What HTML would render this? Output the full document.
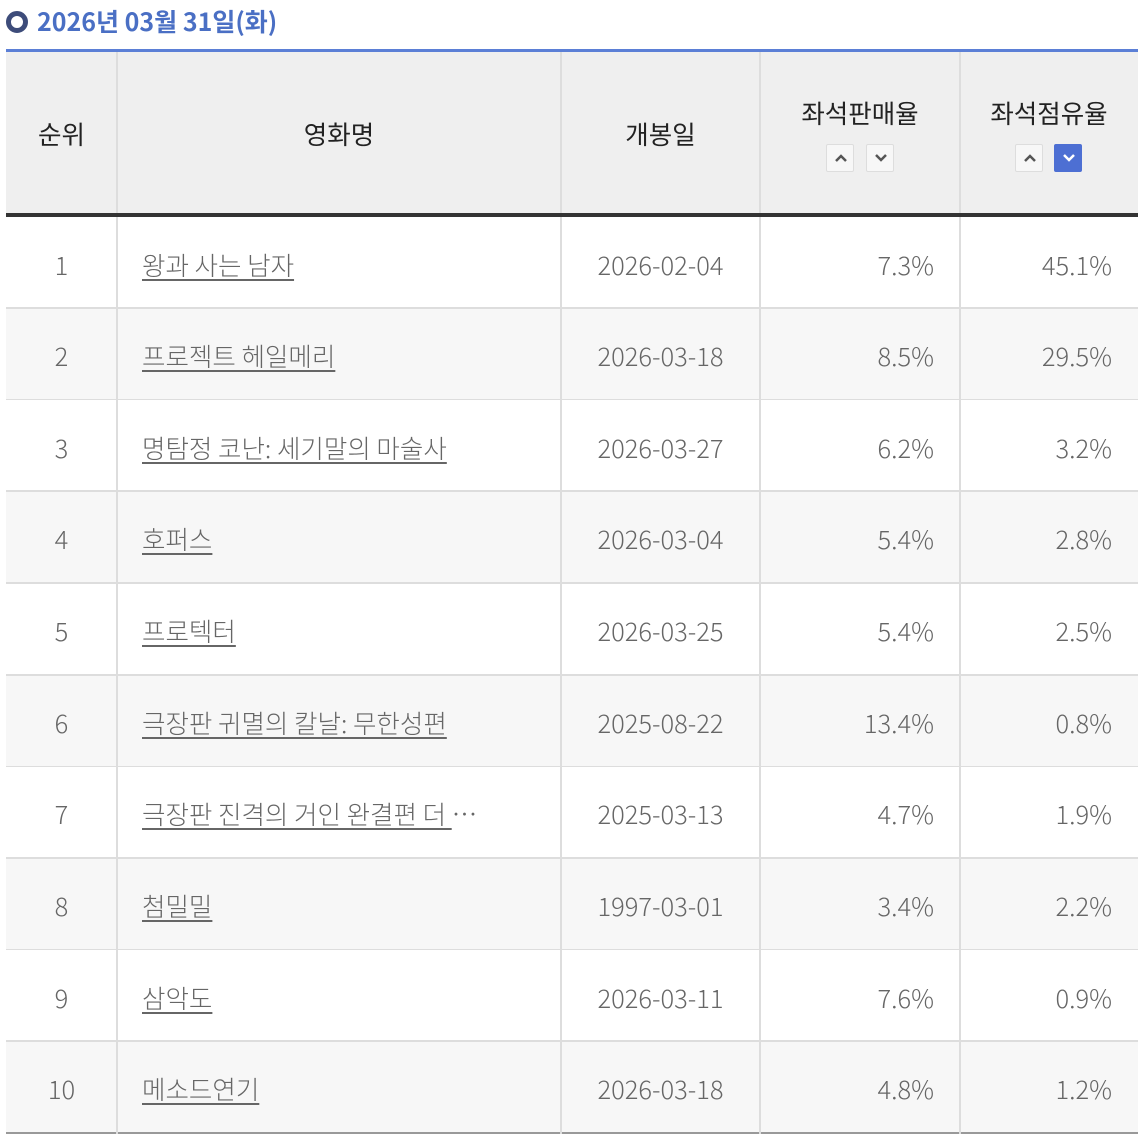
<!DOCTYPE html>
<html><head><meta charset="utf-8"><style>
*{margin:0;padding:0;box-sizing:border-box}
body{width:1138px;height:1134px;background:#fff;position:relative;overflow:hidden;font-family:"Noto Sans CJK KR",sans-serif}
.t{position:absolute;left:37px;top:4px;font-size:25px;font-weight:bold;color:#4a6fc4;letter-spacing:0;line-height:34px}
.circ{position:absolute;left:6px;top:11px;width:22px;height:22px;border-radius:50%;border:5px solid #3d4c7a;background:#fff}
.blue{position:absolute;left:6px;top:49px;width:1132px;height:3px;background:#5b7fd6}
.hd{position:absolute;left:6px;top:52px;width:1132px;height:161px;background:#efefef}
.dk{position:absolute;left:6px;top:213px;width:1132px;height:4px;background:#333}
.row{position:absolute;left:6px;width:1132px;height:92px;border-bottom:2px solid #ddd}
.vl{position:absolute;top:52px;width:2px;height:1082px;background:#ddd}
.c{position:absolute;font-size:25.5px;color:#666;font-weight:300;line-height:30px;margin-top:-2px}
.h{position:absolute;font-size:25.5px;color:#222;line-height:30px;text-align:center}
.btn{position:absolute;width:28px;height:28px;border:1px solid #ddd;background:#f7f7f7;border-radius:2px}
.btn svg{position:absolute;left:7px;top:8px}
.btn.on{background:#4d6fd3;border-color:#4d6fd3}
a{color:#666;text-decoration:underline;text-underline-offset:4px}
</style></head><body>
<div class="circ"></div>
<div class="t">2026년 03월 31일(화)</div>
<div class="blue"></div>
<div class="hd"></div>
<div class="dk"></div>
<div class="h" style="left:6px;width:111px;top:119px">순위</div>
<div class="h" style="left:117px;width:444px;top:119px">영화명</div>
<div class="h" style="left:561px;width:199px;top:119px">개봉일</div>
<div class="h" style="left:760px;width:200px;top:98px">좌석판매율</div>
<div class="h" style="left:960px;width:178px;top:98px">좌석점유율</div>
<div class="btn" style="left:826px;top:144px"><svg width="14" height="10"><path d="M2 8 L7 3 L12 8" stroke="#555" stroke-width="2.5" fill="none"/></svg></div>
<div class="btn" style="left:866px;top:144px"><svg width="14" height="10"><path d="M2 2 L7 7 L12 2" stroke="#555" stroke-width="2.5" fill="none"/></svg></div>
<div class="btn" style="left:1015px;top:144px"><svg width="14" height="10"><path d="M2 8 L7 3 L12 8" stroke="#555" stroke-width="2.5" fill="none"/></svg></div>
<div class="btn on" style="left:1054px;top:144px"><svg width="14" height="10"><path d="M2 2 L7 7 L12 2" stroke="#fff" stroke-width="2.5" fill="none"/></svg></div>

<div class="row" style="top:217px;background:#fff"></div>
<div class="row" style="top:309px;background:#f7f7f7"></div>
<div class="row" style="top:400px;background:#fff"></div>
<div class="row" style="top:492px;background:#f7f7f7"></div>
<div class="row" style="top:584px;background:#fff"></div>
<div class="row" style="top:676px;background:#f7f7f7"></div>
<div class="row" style="top:767px;background:#fff"></div>
<div class="row" style="top:859px;background:#f7f7f7"></div>
<div class="row" style="top:950px;background:#fff"></div>
<div class="row" style="top:1042px;background:#f7f7f7;border-bottom:2px solid #999"></div>

<div class="vl" style="left:116px"></div>
<div class="vl" style="left:560px"></div>
<div class="vl" style="left:759px"></div>
<div class="vl" style="left:959px"></div>
<div class="dk" style="height:4px"></div>

<div class="c" style="left:6px;width:111px;text-align:center;top:252px">1</div><div class="c" style="left:142px;top:252px"><a>왕과 사는 남자</a></div><div class="c" style="left:561px;width:199px;text-align:center;top:252px">2026-02-04</div><div class="c" style="right:204px;top:252px">7.3%</div><div class="c" style="right:26px;top:252px">45.1%</div>
<div class="c" style="left:6px;width:111px;text-align:center;top:343px">2</div><div class="c" style="left:142px;top:343px"><a>프로젝트 헤일메리</a></div><div class="c" style="left:561px;width:199px;text-align:center;top:343px">2026-03-18</div><div class="c" style="right:204px;top:343px">8.5%</div><div class="c" style="right:26px;top:343px">29.5%</div>
<div class="c" style="left:6px;width:111px;text-align:center;top:435px">3</div><div class="c" style="left:142px;top:435px"><a>명탐정 코난: 세기말의 마술사</a></div><div class="c" style="left:561px;width:199px;text-align:center;top:435px">2026-03-27</div><div class="c" style="right:204px;top:435px">6.2%</div><div class="c" style="right:26px;top:435px">3.2%</div>
<div class="c" style="left:6px;width:111px;text-align:center;top:526px">4</div><div class="c" style="left:142px;top:526px"><a>호퍼스</a></div><div class="c" style="left:561px;width:199px;text-align:center;top:526px">2026-03-04</div><div class="c" style="right:204px;top:526px">5.4%</div><div class="c" style="right:26px;top:526px">2.8%</div>
<div class="c" style="left:6px;width:111px;text-align:center;top:618px">5</div><div class="c" style="left:142px;top:618px"><a>프로텍터</a></div><div class="c" style="left:561px;width:199px;text-align:center;top:618px">2026-03-25</div><div class="c" style="right:204px;top:618px">5.4%</div><div class="c" style="right:26px;top:618px">2.5%</div>
<div class="c" style="left:6px;width:111px;text-align:center;top:710px">6</div><div class="c" style="left:142px;top:710px"><a>극장판 귀멸의 칼날: 무한성편</a></div><div class="c" style="left:561px;width:199px;text-align:center;top:710px">2025-08-22</div><div class="c" style="right:204px;top:710px">13.4%</div><div class="c" style="right:26px;top:710px">0.8%</div>
<div class="c" style="left:6px;width:111px;text-align:center;top:801px">7</div><div class="c" style="left:142px;top:801px"><a>극장판 진격의 거인 완결편 더 </a>…</div><div class="c" style="left:561px;width:199px;text-align:center;top:801px">2025-03-13</div><div class="c" style="right:204px;top:801px">4.7%</div><div class="c" style="right:26px;top:801px">1.9%</div>
<div class="c" style="left:6px;width:111px;text-align:center;top:893px">8</div><div class="c" style="left:142px;top:893px"><a>첨밀밀</a></div><div class="c" style="left:561px;width:199px;text-align:center;top:893px">1997-03-01</div><div class="c" style="right:204px;top:893px">3.4%</div><div class="c" style="right:26px;top:893px">2.2%</div>
<div class="c" style="left:6px;width:111px;text-align:center;top:985px">9</div><div class="c" style="left:142px;top:985px"><a>삼악도</a></div><div class="c" style="left:561px;width:199px;text-align:center;top:985px">2026-03-11</div><div class="c" style="right:204px;top:985px">7.6%</div><div class="c" style="right:26px;top:985px">0.9%</div>
<div class="c" style="left:6px;width:111px;text-align:center;top:1076px">10</div><div class="c" style="left:142px;top:1076px"><a>메소드연기</a></div><div class="c" style="left:561px;width:199px;text-align:center;top:1076px">2026-03-18</div><div class="c" style="right:204px;top:1076px">4.8%</div><div class="c" style="right:26px;top:1076px">1.2%</div>
</body></html>
